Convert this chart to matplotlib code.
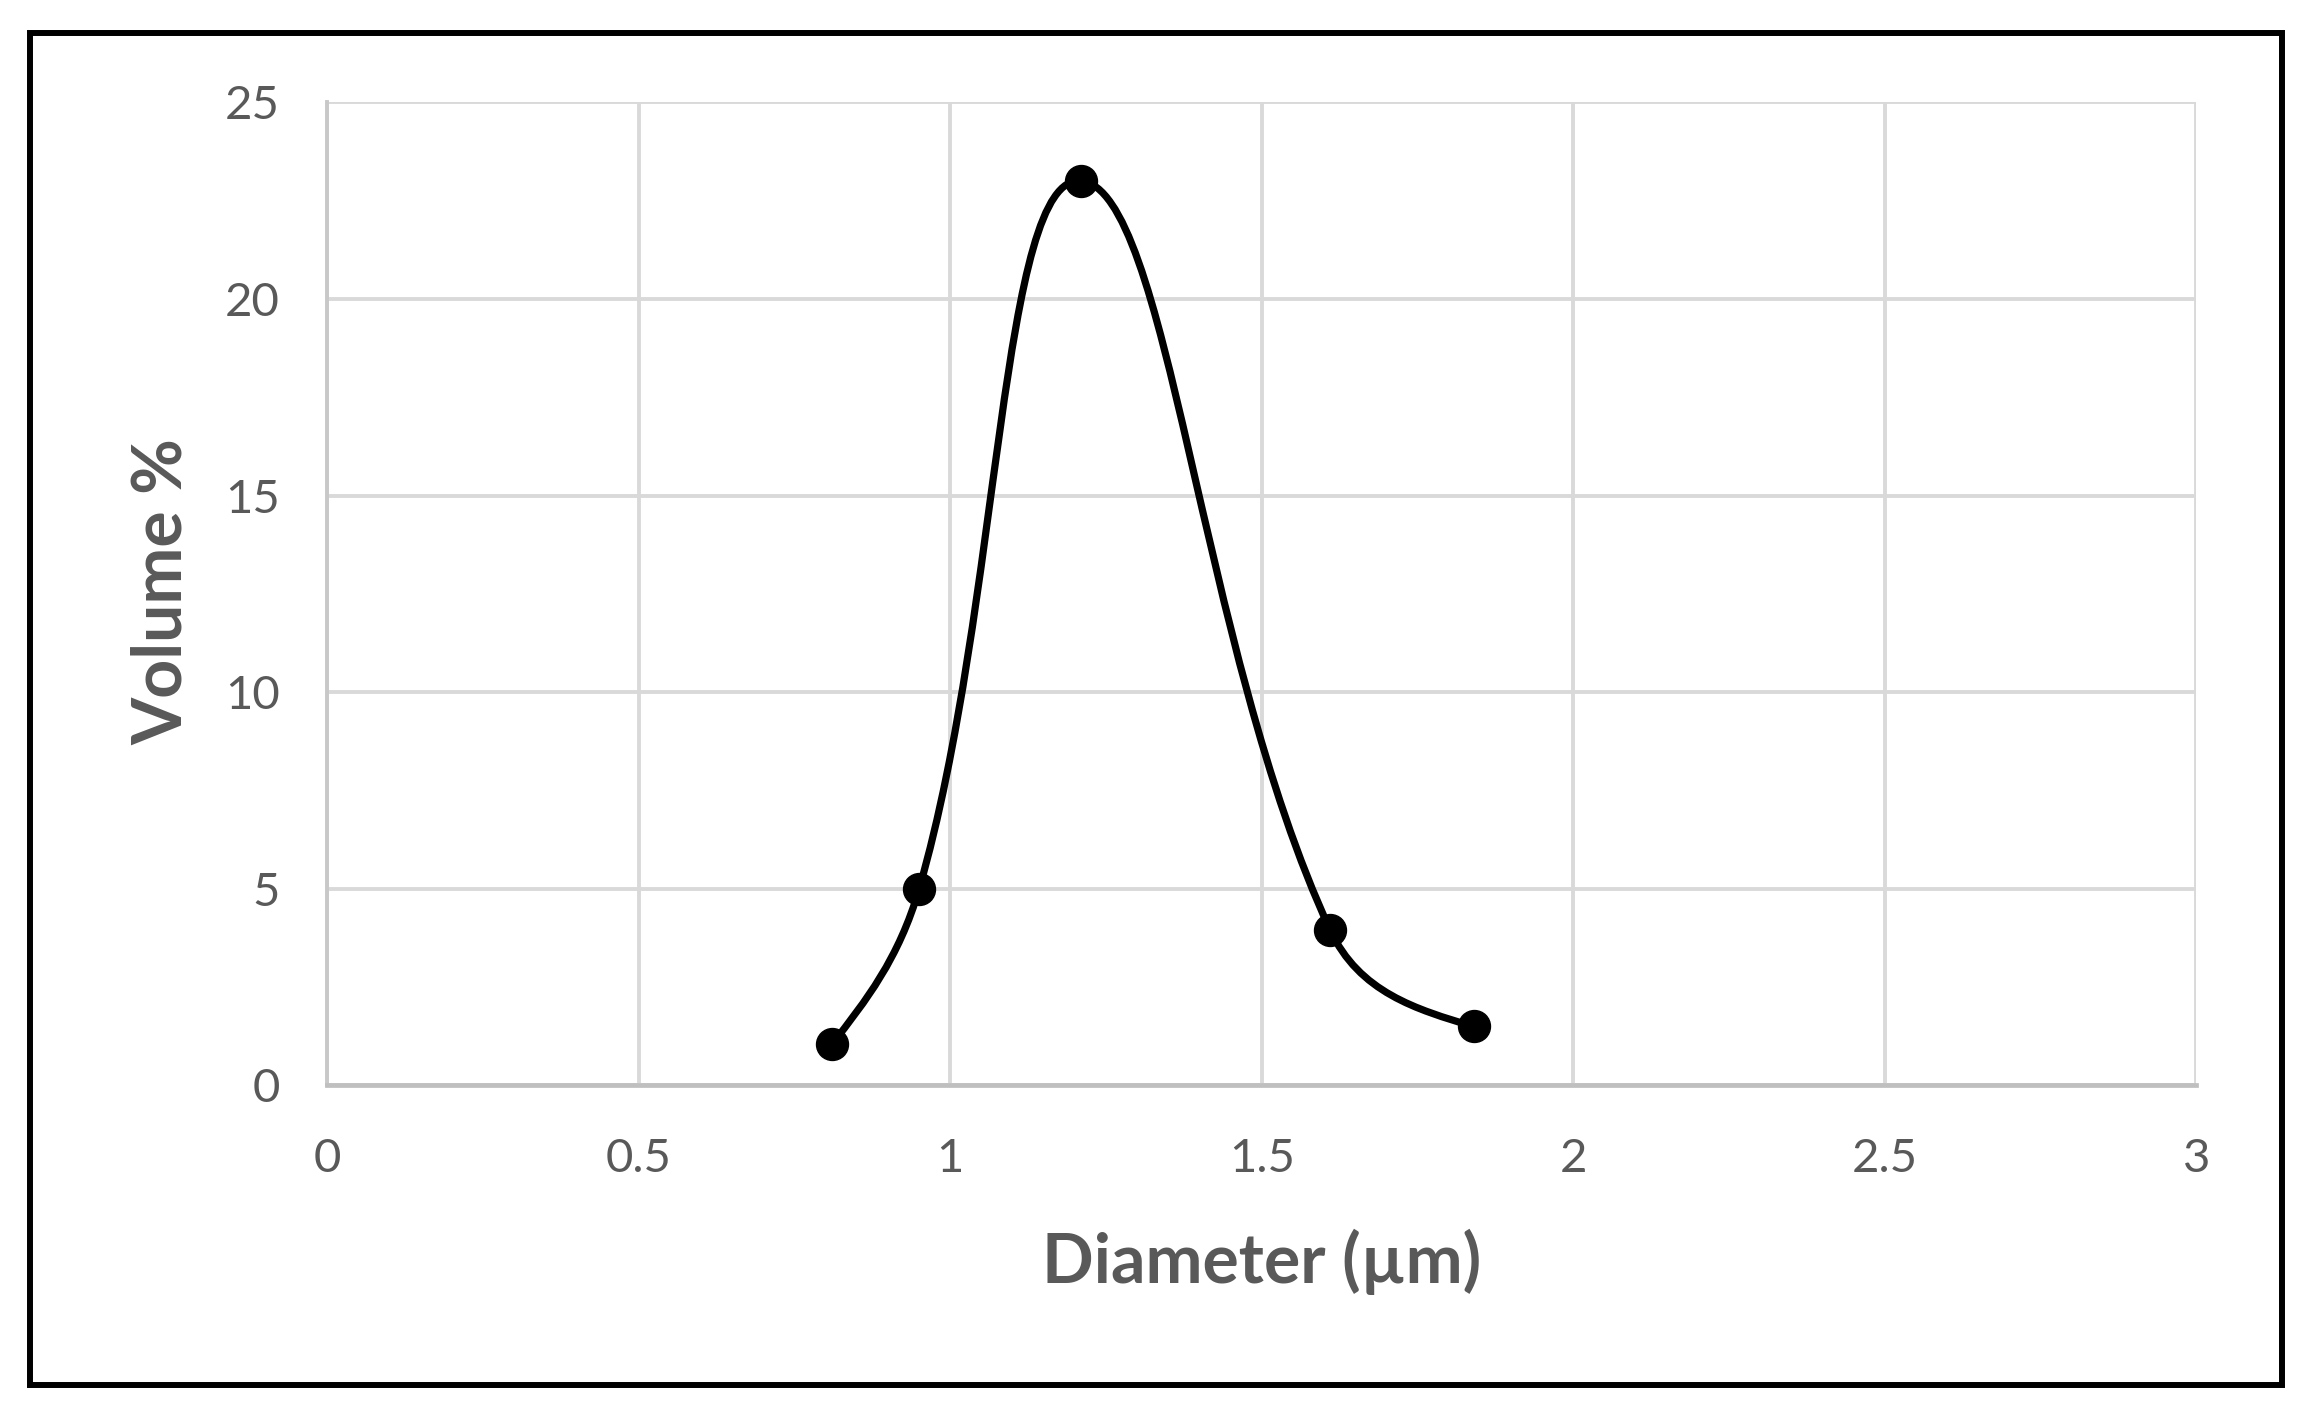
import numpy as np
import matplotlib
matplotlib.use("Agg")
import matplotlib.pyplot as plt
from matplotlib.patches import Rectangle
from matplotlib.path import Path
from matplotlib.patches import PathPatch

# ---- data ----
diameter = [0.81, 0.95, 1.21, 1.61, 1.84]
volume = [1.05, 5.0, 23.0, 3.95, 1.5]
x_ticks = [0, 0.5, 1, 1.5, 2, 2.5, 3]
x_tick_labels = ["0", "0.5", "1", "1.5", "2", "2.5", "3"]
y_ticks = [0, 5, 10, 15, 20, 25]
y_tick_labels = ["0", "5", "10", "15", "20", "25"]
x_label = "Diameter (\u00b5m)"
y_label = "Volume %"

plt.rcParams['font.family'] = ['Lato', 'DejaVu Sans']
TXT = '#595959'

fig = plt.figure(figsize=(23.22, 14.23), dpi=100)
ax = fig.add_axes([0.14096, 0.23718, 0.80486, 0.691])

ax.set_xlim(0, 3)
ax.set_ylim(0, 25)
ax.set_xticks(x_ticks)
ax.set_xticklabels(x_tick_labels)
ax.set_yticks(y_ticks)
ax.set_yticklabels(y_tick_labels)
ax.grid(True, color='#d9d9d9', linewidth=2.8, zorder=0)
ax.set_axisbelow(True)
for s in ['top', 'right']:
    ax.spines[s].set_visible(False)
ax.spines['left'].set_color('#c8c8c8')
ax.spines['left'].set_linewidth(2.8)
ax.spines['bottom'].set_color('#bfbfbf')
ax.spines['bottom'].set_linewidth(3.4)
ax.tick_params(axis='both', length=0, labelsize=34, labelcolor=TXT)
ax.tick_params(axis='y', pad=34)
ax.tick_params(axis='x', pad=38)

# smoothed curve: Bezier with control points weighted by segment lengths in screen space,
# natural (zero-curvature) condition at both ends
fig.canvas.draw()
P = ax.transData.transform(np.column_stack([diameter, volume]))
n = len(P)
F = 0.41

def ctrl(i, forward):
    d = P[i + 1] - P[i - 1]
    lp = np.hypot(*(P[i] - P[i - 1]))
    ln = np.hypot(*(P[i + 1] - P[i]))
    if forward:
        return P[i] + d * (ln / (lp + ln)) * F
    return P[i] - d * (lp / (lp + ln)) * F

verts = [tuple(P[0])]
codes = [Path.MOVETO]
for i in range(n - 1):
    c1 = ctrl(i, True) if i > 0 else None
    c2 = ctrl(i + 1, False) if i + 1 < n - 1 else None
    if c1 is None:
        c1 = (P[i] + c2) / 2.0
    if c2 is None:
        c2 = (P[i + 1] + c1) / 2.0
    verts += [tuple(c1), tuple(c2), tuple(P[i + 1])]
    codes += [Path.CURVE4] * 3
verts_data = ax.transData.inverted().transform(np.array(verts))
path = Path(verts_data, codes)
ax.add_patch(PathPatch(path, facecolor='none', edgecolor='black', linewidth=5.2, zorder=3,
                       capstyle='round', joinstyle='round'))
ax.plot(diameter, volume, linestyle='none', marker='o', markersize=23, color='black', zorder=4)

ax.set_xlabel(x_label, fontsize=49, fontweight='bold', color=TXT, va='center', ha='center')
ax.xaxis.set_label_coords(0.5, -0.1795)
ax.set_ylabel(y_label, fontsize=49, fontweight='bold', color=TXT, va='center', ha='center')
ax.yaxis.set_label_coords(-0.088, 0.502)

# outer border
fig.patches.append(Rectangle((0.01275, 0.02698), 0.98277 - 0.01275, 0.97709 - 0.02698,
                             transform=fig.transFigure, fill=False, edgecolor='black',
                             linewidth=4.3, zorder=10))

fig.savefig('out.png', dpi=100, facecolor='white')
